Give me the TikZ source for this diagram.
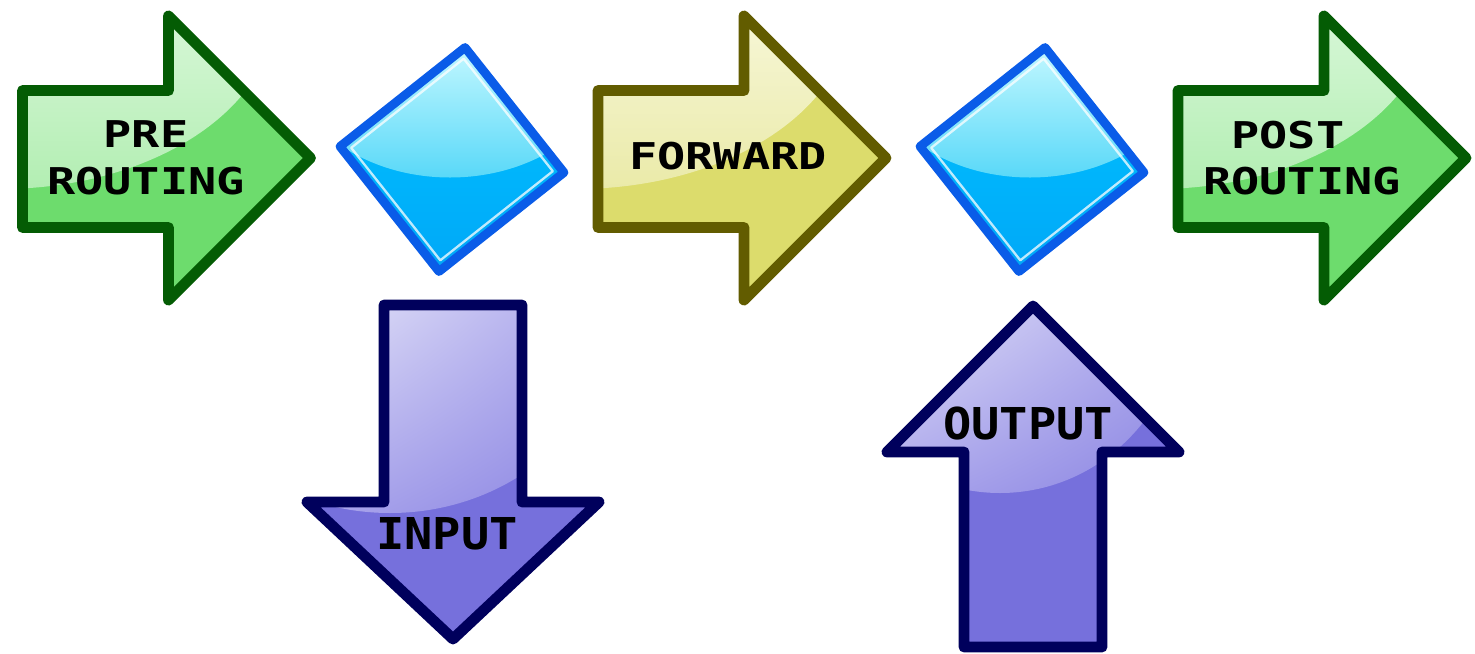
\documentclass[tikz,border=0pt]{standalone}
\usepackage{fontspec}
\usepackage{tikz}
\usetikzlibrary{shadings}
\newfontfamily\chainfont[FakeStretch=1.27]{DejaVu Sans Mono}
\newfontfamily\hookfont[FakeStretch=1.07]{DejaVu Sans Mono}

\definecolor{greenedge}{HTML}{045C04}
\definecolor{greenbase}{HTML}{6DDC6D}
\definecolor{greenshine}{HTML}{D8F7D8}
\definecolor{greenglow}{HTML}{B2EEB2}
\definecolor{yellowedge}{HTML}{625C00}
\definecolor{yellowbase}{HTML}{DCDC6C}
\definecolor{yellowshine}{HTML}{F7F7D8}
\definecolor{yellowglow}{HTML}{EAEAA8}
\definecolor{blueedge}{HTML}{0A5CE8}
\definecolor{bluetop}{HTML}{00C4FF}
\definecolor{bluebottom}{HTML}{00A8F8}
\definecolor{blueshine}{HTML}{C4F8FF}
\definecolor{blueglow}{HTML}{58D8F8}
\definecolor{purpleedge}{HTML}{00005C}
\definecolor{purplebase}{HTML}{7670DC}
\definecolor{purpleshine}{HTML}{E4E4F8}
\definecolor{purplemid}{HTML}{ABA6EC}
\definecolor{purpleglow}{HTML}{8A84E2}

\begin{document}
\begin{tikzpicture}[x=0.02cm, y=-0.02cm, line join=round, line cap=round]
    \tikzstyle{chain label}=[font=\chainfont\bfseries\fontsize{21}{26.6}\selectfont, text=black, inner sep=0pt]
    \tikzstyle{hook label}=[font=\hookfont\bfseries\fontsize{25}{30}\selectfont, text=black, inner sep=0pt]
    \tikzstyle{arrow edge}=[line width=6.2pt]
    \tikzstyle{chain edge}=[line width=5pt, draw=blueedge]

    \useasboundingbox (0,0) rectangle (1475,653);

    % Shapes, drawn around a local origin
    \def\rightshape{(0,-68.5) -- (146,-68.5) -- (146,-143) -- (288,-1) -- (146,141) -- (146,68.5) -- (0,68.5) -- cycle}
    \def\downshape{(-69,0) -- (69,0) -- (69,197) -- (146,197) -- (0,334) -- (-146,197) -- (-69,197) -- cycle}
    \def\upshape{(-69,0) -- (69,0) -- (69,-195) -- (146,-195) -- (0,-341) -- (-146,-195) -- (-69,-195) -- cycle}
    \def\diamondshape{(13,-112) -- (112,13) -- (-13,112) -- (-112,-13) -- cycle}

    % Draw the horizontal arrows
    \foreach \x / \col in {22.5/green, 598/yellow, 1178/green}
    {
        \begin{scope}[shift={(\x,159)}]
            \fill[\col base] \rightshape;
            \begin{scope}
                \clip \rightshape;
                \clip (-22,-150) ellipse [x radius=275, y radius=180];
                \shade[top color=\col shine, bottom color=\col glow] (-10,-150) rectangle (300,32);
            \end{scope}
            \draw[arrow edge, draw=\col edge] \rightshape;
        \end{scope}
    }

    % Draw the two diamonds
    \foreach \x in {452,1032}
    {
        \begin{scope}[shift={(\x,159.5)}]
            \shade[top color=bluetop, bottom color=bluebottom] \diamondshape;
            \begin{scope}
                \clip \diamondshape;
                \clip (-2,-110) ellipse [x radius=165, y radius=128];
                \shade[top color=blueshine, bottom color=blueglow] (-120,-115) rectangle (120,20);
            \end{scope}
            \draw[white, opacity=0.75, line width=1.3pt] [scale=0.9] \diamondshape;
            \draw[chain edge] \diamondshape;
        \end{scope}
    }

    % Draw the input arrow
    \begin{scope}[shift={(453,305)}]
        \fill[purplebase] \downshape;
        \begin{scope}
            \clip \downshape;
            \clip (-63,-5) ellipse [x radius=230, y radius=213];
            \shade[upper left=purpleshine, upper right=purplemid, lower left=purplemid, lower right=purpleglow] (-150,0) rectangle (150,210);
        \end{scope}
        \draw[arrow edge, draw=purpleedge] \downshape;
    \end{scope}

    % Draw the output arrow
    \begin{scope}[shift={(1033,647)}]
        \fill[purplebase] \upshape;
        \begin{scope}
            \clip \upshape;
            \clip (-33,-347) ellipse [x radius=185, y radius=193];
            \shade[upper left=purpleshine, upper right=purplemid, lower left=purplemid, lower right=purpleglow] (-150,-345) rectangle (150,-152);
        \end{scope}
        \draw[arrow edge, draw=purpleedge] \upshape;
    \end{scope}

    % Chain names
    \node[chain label, align=left] (pre) at (146,158) {\ \ PRE\\ROUTING};
    \node[chain label] (forward) at (728,156) {FORWARD};
    \node[chain label, align=left] (post) at (1302,158) {\ POST\\ROUTING};
    \node[hook label] (input) at (447,534) {INPUT};
    \node[hook label] (output) at (1028,424) {OUTPUT};
\end{tikzpicture}
\end{document}
